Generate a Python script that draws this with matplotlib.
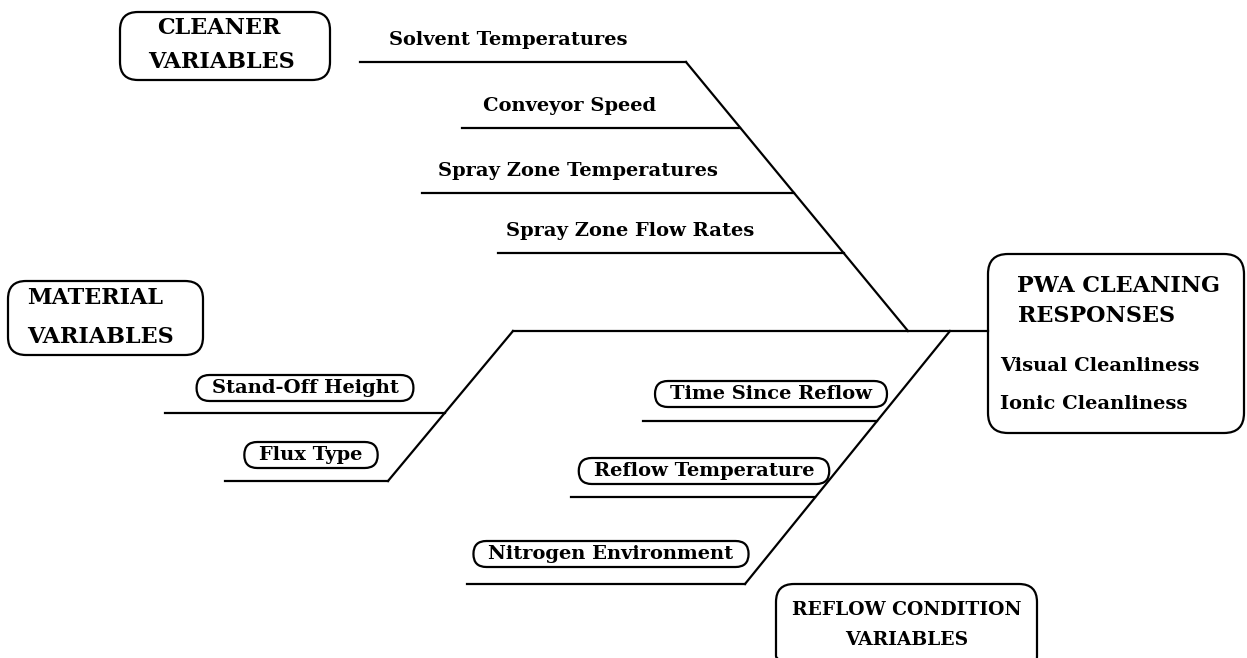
import matplotlib
matplotlib.use("Agg")
import matplotlib.pyplot as plt
from matplotlib.patches import FancyBboxPatch

# labels of the cause-and-effect diagram
cleaner_vars = ["Solvent Temperatures", "Conveyor Speed",
                "Spray Zone Temperatures", "Spray Zone Flow Rates"]
material_vars = ["Stand-Off Height", "Flux Type"]
reflow_vars = ["Time Since Reflow", "Reflow Temperature", "Nitrogen Environment"]
responses = ["Visual Cleanliness", "Ionic Cleanliness"]
cleaner_title = ["CLEANER", "VARIABLES"]
material_title = ["MATERIAL", "VARIABLES"]
reflow_title = ["REFLOW CONDITION", "VARIABLES"]
response_title = ["PWA CLEANING", "RESPONSES"]

FONT = "DejaVu Serif"
LW = 1.6

fig = plt.figure(figsize=(12.47, 6.58), dpi=100)
ax = fig.add_axes([0, 0, 1, 1])
ax.set_xlim(0, 1247)
ax.set_ylim(658, 0)
ax.axis("off")


def diag_x(p0, p1, y):
    # x of a diagonal bone at height y
    (x0, y0), (x1, y1) = p0, p1
    return x0 + (y - y0) * (x1 - x0) / (y1 - y0)


def box(x, y, w, h, r=18):
    ax.add_patch(FancyBboxPatch((x + r, y + r), w - 2 * r, h - 2 * r,
                                boxstyle=f"round,pad={r},rounding_size={r}",
                                fill=False, lw=LW, ec="black", clip_on=False))


def label(x, y, s, size=14, ha="center"):
    return ax.text(x, y, s, ha=ha, va="center", fontsize=size, family=FONT,
                   weight="bold")


pills = []


def pill(x, y, s):
    pills.append(label(x, y, s))


# spine
spine_y = 331
ax.plot([513, 988], [spine_y, spine_y], color="black", lw=LW)

# cleaner bones (upper)
up0, up1 = (686, 62), (908, spine_y)
ax.plot([up0[0], up1[0]], [up0[1], up1[1]], color="black", lw=LW)
cl_y = [62, 128, 193, 253]
cl_start = [360, 462, 422, 498]
cl_text_x = [508, 570, 578, 630]
for s, y, xs, tx in zip(cleaner_vars, cl_y, cl_start, cl_text_x):
    ax.plot([xs, diag_x(up0, up1, y)], [y, y], color="black", lw=LW)
    label(tx, y - 22, s)

# material bones (lower left)
ml0, ml1 = (513, spine_y), (388, 481)
ax.plot([ml0[0], ml1[0]], [ml0[1], ml1[1]], color="black", lw=LW)
mt_y = [413, 481]
mt_start = [165, 225]
mt_text = [(305, 388), (311, 455)]
for s, y, xs, (tx, ty) in zip(material_vars, mt_y, mt_start, mt_text):
    ax.plot([xs, diag_x(ml0, ml1, y)], [y, y], color="black", lw=LW)
    pill(tx, ty, s)

# reflow bones (lower right)
rl0, rl1 = (950, spine_y), (745, 584)
ax.plot([rl0[0], rl1[0]], [rl0[1], rl1[1]], color="black", lw=LW)
rf_y = [421, 497, 584]
rf_start = [643, 571, 467]
rf_text = [(771, 394), (704, 471), (611, 554)]
for s, y, xs, (tx, ty) in zip(reflow_vars, rf_y, rf_start, rf_text):
    ax.plot([xs, diag_x(rl0, rl1, y)], [y, y], color="black", lw=LW)
    pill(tx, ty, s)

# group boxes
box(120, 12, 210, 68)
label(219, 28, cleaner_title[0], 16)
label(222, 62, cleaner_title[1], 16)
box(8, 281, 195, 74)
label(27, 298, material_title[0], 16, ha="left")
label(27, 337, material_title[1], 16, ha="left")
box(776, 584, 261, 90)
label(907, 610, reflow_title[0], 13.5)
label(907, 640, reflow_title[1], 13.5)

# response box
box(988, 254, 256, 179, r=20)
label(1017, 286, response_title[0], 16, ha="left")
label(1018, 316, response_title[1], 16, ha="left")
for i, s in enumerate(responses):
    label(1000, 366 + 38 * i, s, ha="left")

# stadium outlines round the bone labels, sized from the rendered text
fig.canvas.draw()
inv = ax.transData.inverted()
for t in pills:
    bb = t.get_window_extent()
    (x0, y0), (x1, y1) = inv.transform([[bb.x0, bb.y0], [bb.x1, bb.y1]])
    top, bot = min(y0, y1) - 4, max(y0, y1) + 4
    r = (bot - top) / 2
    ax.add_patch(FancyBboxPatch((x0 - 2, top + r), x1 - x0 + 4, 0,
                                boxstyle=f"round,pad={r},rounding_size={r}",
                                fill=False, lw=LW, ec="black"))

fig.savefig("out.png", dpi=100)
